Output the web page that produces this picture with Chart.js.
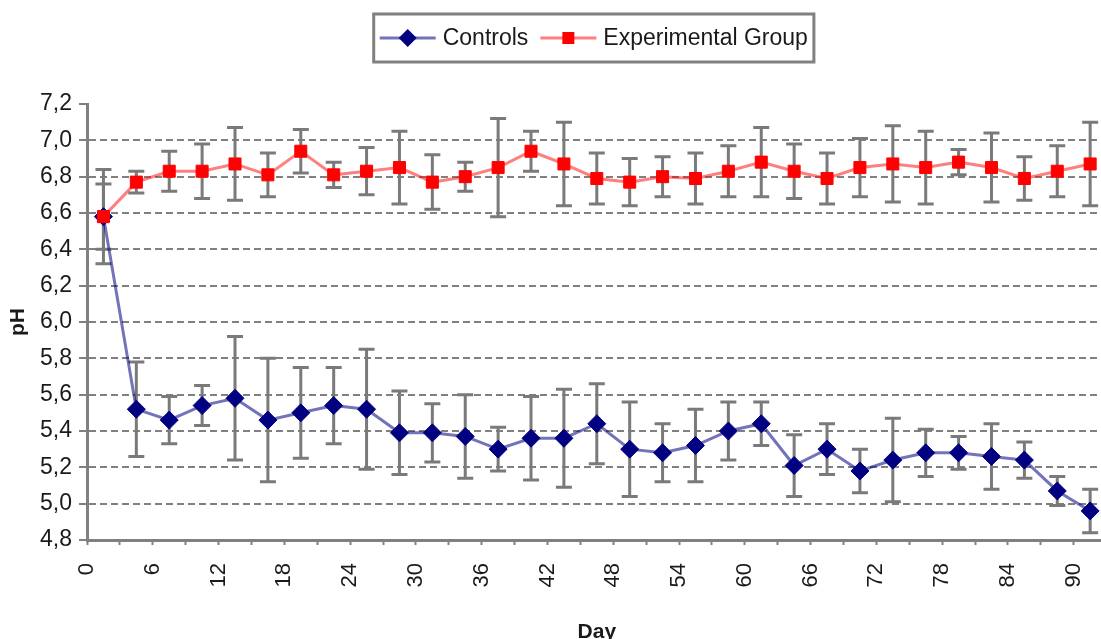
<!DOCTYPE html>
<html>
<head>
<meta charset="utf-8">
<script src="https://cdn.jsdelivr.net/npm/chart.js@4.4.1/dist/chart.umd.min.js"></script>
<style>
html, body { margin: 0; padding: 0; overflow: hidden; background: #fff; }
</style>
</head>
<body>
<canvas id="phChart" width="1151" height="660"></canvas>
<script>
// x tick labels sit on every second tick mark
const tickLabels = ['0', '6', '12', '18', '24', '30', '36', '42', '48', '54', '60', '66', '72', '78', '84', '90'];

const controls = [6.58, 5.52, 5.46, 5.54, 5.58, 5.46, 5.50, 5.54, 5.52, 5.39, 5.39, 5.37, 5.30, 5.36, 5.36, 5.44,
  5.30, 5.28, 5.32, 5.40, 5.44, 5.21, 5.30, 5.18, 5.24, 5.28, 5.28, 5.26, 5.24, 5.07, 4.96];
const controlsErr = [0.26, 0.26, 0.13, 0.11, 0.34, 0.34, 0.25, 0.21, 0.33, 0.23, 0.16, 0.23, 0.12, 0.23, 0.27, 0.22,
  0.26, 0.16, 0.20, 0.16, 0.12, 0.17, 0.14, 0.12, 0.23, 0.13, 0.09, 0.18, 0.10, 0.08, 0.12];

const experimental = [6.58, 6.77, 6.83, 6.83, 6.87, 6.81, 6.94, 6.81, 6.83, 6.85, 6.77, 6.80, 6.85, 6.94, 6.87, 6.79,
  6.77, 6.80, 6.79, 6.83, 6.88, 6.83, 6.79, 6.85, 6.87, 6.85, 6.88, 6.85, 6.79, 6.83, 6.87];
const experimentalErr = [0.18, 0.06, 0.11, 0.15, 0.20, 0.12, 0.12, 0.07, 0.13, 0.20, 0.15, 0.08, 0.27, 0.11, 0.23, 0.14,
  0.13, 0.11, 0.14, 0.14, 0.19, 0.15, 0.14, 0.16, 0.21, 0.20, 0.07, 0.19, 0.12, 0.14, 0.23];

// points sit in the middle of each category slot
const toPoints = vals => vals.map((v, i) => ({ x: i + 0.5, y: v }));

const FONT = '"Liberation Sans", Arial, sans-serif';
const GRAY = '#808080';

const errorBars = {
  id: 'errorBars',
  beforeDatasetsDraw(chart) {
    const { ctx, scales: { x, y } } = chart;
    ctx.save();
    ctx.strokeStyle = '#7a7a7a';
    ctx.lineWidth = 3;
    chart.data.datasets.forEach(ds => {
      ds.data.forEach((p, i) => {
        const e = ds.errors[i];
        const px = x.getPixelForValue(p.x);
        const top = y.getPixelForValue(p.y + e);
        const bot = y.getPixelForValue(p.y - e);
        ctx.beginPath();
        ctx.moveTo(px, top); ctx.lineTo(px, bot);
        ctx.moveTo(px - 8, top); ctx.lineTo(px + 8, top);
        ctx.moveTo(px - 8, bot); ctx.lineTo(px + 8, bot);
        ctx.stroke();
      });
    });
    ctx.restore();
  }
};

function marker(ctx, style, color, cx, cy) {
  ctx.fillStyle = color;
  ctx.beginPath();
  if (style === 'rectRot') {
    ctx.moveTo(cx, cy - 9); ctx.lineTo(cx + 9, cy); ctx.lineTo(cx, cy + 9); ctx.lineTo(cx - 9, cy);
  } else {
    ctx.rect(cx - 6, cy - 6, 12, 12);
  }
  ctx.closePath();
  ctx.fill();
}

const boxedLegend = {
  id: 'boxedLegend',
  afterDraw(chart) {
    const { ctx, chartArea } = chart;
    const items = chart.data.datasets;
    ctx.save();
    ctx.font = '23px ' + FONT;
    const lineLen = 56, gap = 7, spacing = 12, pad = 6;
    const widths = items.map(d => lineLen + gap + ctx.measureText(d.label).width);
    const total = widths.reduce((a, b) => a + b, 0) + spacing * (items.length - 1) + pad * 2;
    const left = (chartArea.left + chartArea.right) / 2 - total / 2 - 3;
    const top = 14, h = 48, cy = top + h / 2;
    ctx.strokeStyle = GRAY;
    ctx.lineWidth = 3;
    ctx.strokeRect(left, top, total, h);
    let xx = left + pad;
    items.forEach((d, k) => {
      ctx.strokeStyle = d.borderColor;
      ctx.lineWidth = 3;
      ctx.beginPath();
      ctx.moveTo(xx, cy); ctx.lineTo(xx + lineLen, cy);
      ctx.stroke();
      marker(ctx, d.pointStyle, d.pointBackgroundColor, xx + lineLen / 2, cy);
      ctx.fillStyle = '#1a1a1a';
      ctx.textBaseline = 'middle';
      ctx.fillText(d.label, xx + lineLen + gap, cy + 1);
      xx += widths[k] + spacing;
    });
    ctx.restore();
  }
};

const isEdge = v => Math.abs(v - 7.2) < 1e-6 || Math.abs(v - 4.8) < 1e-6;

new Chart(document.getElementById('phChart'), {
  type: 'line',
  data: {
    datasets: [
      {
        label: 'Controls',
        data: toPoints(controls),
        errors: controlsErr,
        order: 1,
        borderColor: 'rgba(0, 0, 128, 0.55)',
        borderWidth: 3,
        pointStyle: 'rectRot',
        pointRadius: 9,
        pointBackgroundColor: '#000080',
        pointBorderColor: '#000080',
        pointBorderWidth: 1,
        tension: 0
      },
      {
        label: 'Experimental Group',
        data: toPoints(experimental),
        errors: experimentalErr,
        order: 0,
        borderColor: 'rgba(255, 0, 0, 0.5)',
        borderWidth: 3,
        pointStyle: 'rect',
        pointRadius: 8.5,
        pointBackgroundColor: '#ff0000',
        pointBorderColor: '#ff0000',
        pointBorderWidth: 1,
        tension: 0
      }
    ]
  },
  options: {
    responsive: false,
    animation: false,
    layout: { padding: { top: 104, right: 0, left: 0, bottom: 0 } },
    plugins: {
      legend: { display: false },
      tooltip: { enabled: false }
    },
    scales: {
      x: {
        type: 'linear',
        min: 0,
        max: 31,
        afterFit: s => { s.height = 120; },
        ticks: {
          stepSize: 1,
          autoSkip: false,
          minRotation: 90,
          maxRotation: 90,
          padding: 18,
          color: '#1a1a1a',
          font: { size: 22, family: FONT },
          callback: v => (v % 2 === 0 ? tickLabels[v / 2] : '')
        },
        grid: {
          drawOnChartArea: false,
          drawTicks: true,
          tickLength: 5,
          tickColor: GRAY,
          tickWidth: 2
        },
        border: { color: GRAY, width: 3 },
        title: {
          display: true,
          text: 'Day',
          color: '#1a1a1a',
          font: { size: 21, weight: 'bold', family: FONT },
          padding: { top: 0, bottom: 15 }
        }
      },
      y: {
        min: 4.8,
        max: 7.2,
        afterFit: s => { s.width = 87; },
        ticks: {
          stepSize: 0.2,
          padding: 7,
          color: '#1a1a1a',
          font: { size: 23, family: FONT },
          callback: v => Number(v).toFixed(1).replace('.', ',')
        },
        grid: {
          color: c => (isEdge(c.tick.value) ? 'rgba(0,0,0,0)' : GRAY),
          lineWidth: 2,
          drawTicks: true,
          tickLength: 8,
          tickColor: GRAY,
          tickWidth: 2,
          tickBorderDash: []
        },
        border: { color: GRAY, width: 3, dash: [7, 4] },
        title: {
          display: true,
          text: 'pH',
          color: '#1a1a1a',
          font: { size: 21, weight: 'bold', family: FONT },
          padding: { top: 6, bottom: 0 }
        }
      }
    }
  },
  plugins: [errorBars, boxedLegend]
});
</script>
</body>
</html>
